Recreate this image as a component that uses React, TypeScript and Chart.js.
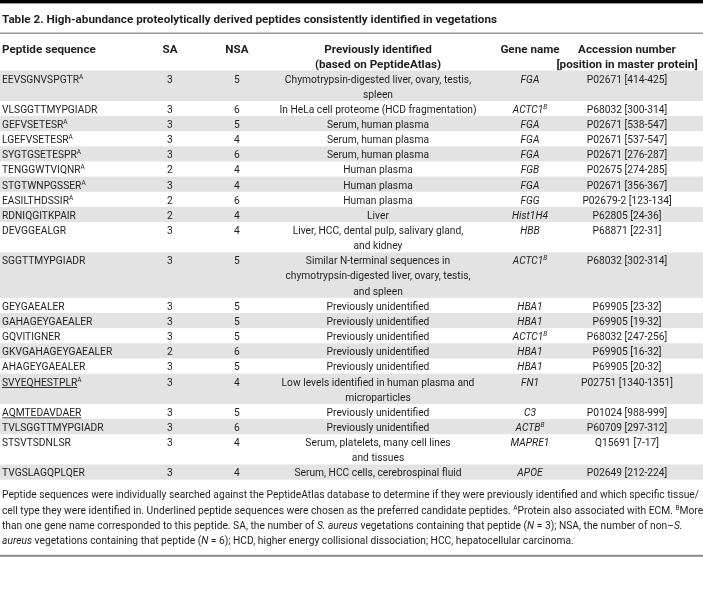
import React, { useEffect, useRef } from "react";
import { Chart, registerables } from "chart.js";

Chart.register(...registerables);

// ---------- data ----------
const tableTitle =
  "Table 2. High-abundance proteolytically derived peptides consistently identified in vegetations";

const headerPeptide = ["Peptide sequence"];
const headerSA = ["SA"];
const headerNSA = ["NSA"];
const headerPrevious = ["Previously identified", "(based on PeptideAtlas)"];
const headerGene = ["Gene name"];
const headerAccession = ["Accession number", "[position in master protein]"];

const peptideSequences = [
  "EEVSGNVSPGTR",
  "VLSGGTTMYPGIADR",
  "GEFVSETESR",
  "LGEFVSETESR",
  "SYGTGSETESPR",
  "TENGGWTVIQNR",
  "STGTWNPGSSER",
  "EASILTHDSSIR",
  "RDNIQGITKPAIR",
  "DEVGGEALGR",
  "SGGTTMYPGIADR",
  "GEYGAEALER",
  "GAHAGEYGAEALER",
  "GQVITIGNER",
  "GKVGAHAGEYGAEALER",
  "AHAGEYGAEALER",
  "SVYEQHESTPLR",
  "AQMTEDAVDAER",
  "TVLSGGTTMYPGIADR",
  "STSVTSDNLSR",
  "TVGSLAGQPLQER",
];

const peptideNotes = [
  "A", "", "A", "A", "A", "A", "A", "A", "", "", "", "", "", "", "", "", "A", "", "", "", "",
];

const candidatePeptides = ["SVYEQHESTPLR", "AQMTEDAVDAER"];

const saCounts = [3, 3, 3, 3, 3, 2, 3, 2, 2, 3, 3, 3, 3, 3, 2, 3, 3, 3, 3, 3, 3];
const nsaCounts = [5, 6, 5, 4, 6, 4, 4, 6, 4, 4, 5, 5, 5, 5, 6, 5, 4, 5, 6, 4, 4];

const previouslyIdentified = [
  ["Chymotrypsin-digested liver, ovary, testis,", "spleen"],
  ["In HeLa cell proteome (HCD fragmentation)"],
  ["Serum, human plasma"],
  ["Serum, human plasma"],
  ["Serum, human plasma"],
  ["Human plasma"],
  ["Human plasma"],
  ["Human plasma"],
  ["Liver"],
  ["Liver, HCC, dental pulp, salivary gland,", "and kidney"],
  ["Similar N-terminal sequences in", "chymotrypsin-digested liver, ovary, testis,", "and spleen"],
  ["Previously unidentified"],
  ["Previously unidentified"],
  ["Previously unidentified"],
  ["Previously unidentified"],
  ["Previously unidentified"],
  ["Low levels identified in human plasma and", "microparticles"],
  ["Previously unidentified"],
  ["Previously unidentified"],
  ["Serum, platelets, many cell lines", "and tissues"],
  ["Serum, HCC cells, cerebrospinal fluid"],
];

const geneNames = [
  "FGA", "ACTC1", "FGA", "FGA", "FGA", "FGB", "FGA", "FGG", "Hist1H4", "HBB", "ACTC1",
  "HBA1", "HBA1", "ACTC1", "HBA1", "HBA1", "FN1", "C3", "ACTB", "MAPRE1", "APOE",
];
const geneNotes = [
  "", "B", "", "", "", "", "", "", "", "", "B", "", "", "B", "", "", "", "", "B", "", "",
];

const accessionNumbers = [
  "P02671 [414-425]",
  "P68032 [300-314]",
  "P02671 [538-547]",
  "P02671 [537-547]",
  "P02671 [276-287]",
  "P02675 [274-285]",
  "P02671 [356-367]",
  "P02679-2 [123-134]",
  "P62805 [24-36]",
  "P68871 [22-31]",
  "P68032 [302-314]",
  "P69905 [23-32]",
  "P69905 [19-32]",
  "P68032 [247-256]",
  "P69905 [16-32]",
  "P69905 [20-32]",
  "P02751 [1340-1351]",
  "P01024 [988-999]",
  "P60709 [297-312]",
  "Q15691 [7-17]",
  "P02649 [212-224]",
];

type Seg = { t: string; b?: boolean; i?: boolean; sup?: boolean; u?: boolean };

const footnoteLines: Seg[][] = [
  [
    {
      t: "Peptide sequences were individually searched against the PeptideAtlas database to determine if they were previously identified and which specific tissue/",
    },
  ],
  [
    {
      t: "cell type they were identified in. Underlined peptide sequences were chosen as the preferred candidate peptides. ",
    },
    { t: "A", sup: true },
    { t: "Protein also associated with ECM. " },
    { t: "B", sup: true },
    { t: "More" },
  ],
  [
    { t: "than one gene name corresponded to this peptide. SA, the number of " },
    { t: "S. aureus", i: true },
    { t: " vegetations containing that peptide (" },
    { t: "N", i: true },
    { t: " = 3); NSA, the number of non\u2013" },
    { t: "S.", i: true },
  ],
  [
    { t: "aureus", i: true },
    { t: " vegetations containing that peptide (" },
    { t: "N", i: true },
    {
      t: " = 6); HCD, higher energy collisional dissociation; HCC, hepatocellular carcinoma.",
    },
  ],
];

// ---------- layout / style ----------
const W = 703;
const H = 608;
const FONT = "Roboto";
const SIZE = 11;
const SUP_SIZE = 7;
const TEXT = "#1f1f1f";
const STRIPE = "#e3e3e3";
const LINE_H = 15.15;
const COLS = {
  peptide: { x: 2, align: "left" },
  sa: { x: 170, align: "center" },
  nsa: { x: 237, align: "center" },
  prev: { x: 378, align: "center" },
  gene: { x: 530, align: "center" },
  acc: { x: 627, align: "center" },
} as const;

const tablePlugin = {
  id: "tableDraw",
  afterDraw(chart: any) {
    const ctx: CanvasRenderingContext2D = chart.ctx;
    const xs = chart.scales.x;
    const ys = chart.scales.y;
    const X = (v: number) => xs.getPixelForValue(v);
    const Y = (v: number) => ys.getPixelForValue(v);

    const fontOf = (s: Seg) =>
      `${s.i ? "italic " : ""}${s.b ? "bold " : ""}${s.sup ? SUP_SIZE : SIZE}px ${FONT}`;

    // horizontal condensing factors (the source uses a narrow typeface)
    ctx.font = `${SIZE}px ${FONT}`;
    const natR = ctx.measureText(footnoteLines[0][0].t).width;
    const sxR = Math.min(1.2, Math.max(0.6, 697 / natR));
    ctx.font = `bold ${SIZE}px ${FONT}`;
    const natB = ctx.measureText(tableTitle).width;
    const sxB = Math.min(1.2, Math.max(0.6, 495 / natB));

    const segW = (s: Seg) => {
      ctx.font = fontOf(s);
      return ctx.measureText(s.t).width * (s.b ? sxB : sxR);
    };

    const drawSegs = (segs: Seg[], x: number, baseline: number, align: string) => {
      const total = segs.reduce((a, s) => a + segW(s), 0);
      let cx = X(x);
      if (align === "center") cx -= total / 2;
      else if (align === "right") cx -= total;
      const by = Y(baseline);
      ctx.fillStyle = TEXT;
      ctx.textBaseline = "alphabetic";
      ctx.textAlign = "left";
      for (const s of segs) {
        const w = segW(s);
        ctx.font = fontOf(s);
        ctx.save();
        ctx.translate(cx, s.sup ? by - 4 : by);
        ctx.scale(s.b ? sxB : sxR, 1);
        ctx.fillText(s.t, 0, 0);
        ctx.restore();
        if (s.u) ctx.fillRect(cx, by + 1.6, w, 0.9);
        cx += w;
      }
    };

    ctx.save();
    // white background
    ctx.fillStyle = "#ffffff";
    ctx.fillRect(X(0), Y(0), X(W) - X(0), Y(H) - Y(0));

    // top heavy rule
    ctx.fillStyle = "#000000";
    ctx.fillRect(X(0), Y(0), X(W) - X(0), Y(3.4) - Y(0));

    // title
    drawSegs([{ t: tableTitle, b: true }], 2, 22.7, "left");

    // rule under title
    ctx.fillStyle = "#808080";
    ctx.fillRect(X(0), Y(32.6), X(W) - X(0), Y(33.8) - Y(32.6));

    // header
    const hb = 52.5;
    const headerCells: [string[], keyof typeof COLS][] = [
      [headerPeptide, "peptide"],
      [headerSA, "sa"],
      [headerNSA, "nsa"],
      [headerPrevious, "prev"],
      [headerGene, "gene"],
      [headerAccession, "acc"],
    ];
    for (const [lines, key] of headerCells) {
      lines.forEach((ln, k) =>
        drawSegs([{ t: ln, b: true }], COLS[key].x, hb + k * LINE_H, COLS[key].align)
      );
    }

    // body
    const firstBaseline = 82.5;
    let lineIdx = 0;
    peptideSequences.forEach((seq, r) => {
      const nLines = previouslyIdentified[r].length;
      const b0 = firstBaseline + lineIdx * LINE_H;
      if (r % 2 === 0) {
        ctx.fillStyle = STRIPE;
        const top = b0 - 11.9;
        ctx.fillRect(X(0), Y(top), X(W) - X(0), Y(top + nLines * LINE_H) - Y(top));
      }
      const pSegs: Seg[] = [{ t: seq, u: candidatePeptides.includes(seq) }];
      if (peptideNotes[r]) pSegs.push({ t: peptideNotes[r], sup: true });
      drawSegs(pSegs, COLS.peptide.x, b0, COLS.peptide.align);
      drawSegs([{ t: String(saCounts[r]) }], COLS.sa.x, b0, COLS.sa.align);
      drawSegs([{ t: String(nsaCounts[r]) }], COLS.nsa.x, b0, COLS.nsa.align);
      previouslyIdentified[r].forEach((ln, k) =>
        drawSegs([{ t: ln }], COLS.prev.x, b0 + k * LINE_H, COLS.prev.align)
      );
      const gSegs: Seg[] = [{ t: geneNames[r], i: true }];
      if (geneNotes[r]) gSegs.push({ t: geneNotes[r], sup: true, i: true });
      drawSegs(gSegs, COLS.gene.x, b0, COLS.gene.align);
      drawSegs([{ t: accessionNumbers[r] }], COLS.acc.x, b0, COLS.acc.align);
      lineIdx += nLines;
    });

    // footnote
    const fb = 498.3;
    footnoteLines.forEach((segs, k) => drawSegs(segs, 2, fb + k * 15.2, "left"));

    // bottom rule
    ctx.fillStyle = "#8a8a8a";
    ctx.fillRect(X(0), Y(554.8), X(W) - X(0), Y(556.8) - Y(554.8));
    ctx.restore();
  },
};

export default function App() {
  const ref = useRef<HTMLCanvasElement | null>(null);
  useEffect(() => {
    document.body.style.margin = "0";
    const canvas = ref.current;
    if (!canvas) return;
    const chart = new Chart(canvas, {
      type: "scatter",
      data: { datasets: [{ data: [] }] },
      options: {
        animation: false,
        responsive: false,
        devicePixelRatio: 1,
        layout: { padding: 0 },
        plugins: { legend: { display: false }, tooltip: { enabled: false } },
        scales: {
          x: { type: "linear", min: 0, max: W, display: false },
          y: { type: "linear", min: 0, max: H, reverse: true, display: false },
        },
      },
      plugins: [tablePlugin],
    });
    return () => chart.destroy();
  }, []);
  return (
    <div style={{ width: W, height: H, background: "#fff" }}>
      <canvas ref={ref} width={W} height={H} style={{ display: "block" }} />
    </div>
  );
}
